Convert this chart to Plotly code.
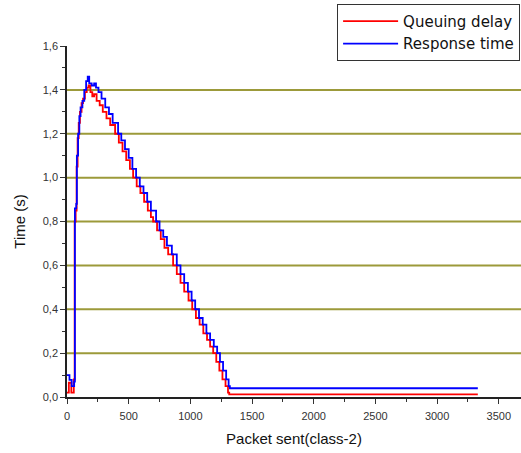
import plotly.graph_objects as go

# Queuing delay (red)
qd_x = [0, 15, 35, 55, 62, 70, 78, 86, 95, 105, 118, 130, 145, 160, 175, 190, 205, 220, 240,
        265, 290, 320, 350, 390, 420, 450, 480, 510, 536, 565, 595, 625, 655, 680, 698, 730,
        760, 790, 820, 860, 890, 920, 950, 985, 1015, 1045, 1075, 1105, 1135, 1160, 1185,
        1210, 1235, 1260, 1285, 1305, 1315, 3330]
qd_y = [0.02, 0.065, 0.02, 0.08, 0.80, 0.85, 1.05, 1.18, 1.25, 1.30, 1.34, 1.36, 1.39, 1.41,
        1.42, 1.39, 1.37, 1.38, 1.35, 1.33, 1.30, 1.27, 1.24, 1.20, 1.16, 1.12, 1.08, 1.04,
        1.00, 0.96, 0.93, 0.89, 0.85, 0.82, 0.80, 0.76, 0.72, 0.68, 0.65, 0.60, 0.56, 0.52,
        0.48, 0.44, 0.40, 0.36, 0.33, 0.29, 0.26, 0.23, 0.20, 0.16, 0.12, 0.08, 0.05, 0.02,
        0.012, 0.012]

# Response time (blue)
rt_x = [0, 20, 38, 58, 64, 75, 80, 90, 100, 110, 125, 140, 155, 168, 180, 200, 220, 235, 255,
        280, 310, 340, 370, 414, 440, 470, 500, 530, 560, 590, 620, 650, 680, 722, 750, 780,
        810, 850, 890, 920, 950, 980, 1010, 1039, 1070, 1100, 1130, 1160, 1190, 1217, 1240,
        1265, 1290, 1310, 1320, 3330]
rt_y = [0.10, 0.078, 0.05, 0.07, 0.86, 0.88, 1.10, 1.20, 1.28, 1.32, 1.35, 1.40, 1.44, 1.46,
        1.43, 1.42, 1.43, 1.41, 1.39, 1.36, 1.32, 1.29, 1.25, 1.20, 1.17, 1.13, 1.09, 1.04,
        1.00, 0.96, 0.93, 0.89, 0.85, 0.80, 0.76, 0.73, 0.69, 0.65, 0.60, 0.56, 0.52, 0.48,
        0.44, 0.40, 0.36, 0.33, 0.29, 0.26, 0.23, 0.20, 0.16, 0.12, 0.08, 0.05, 0.04, 0.04]

y_ticks = [0.0, 0.2, 0.4, 0.6, 0.8, 1.0, 1.2, 1.4, 1.6]
y_tick_labels = ["0,0", "0,2", "0,4", "0,6", "0,8", "1,0", "1,2", "1,4", "1,6"]
grid_values = [0.2, 0.4, 0.6, 0.8, 1.0, 1.2, 1.4]
x_ticks = [0, 500, 1000, 1500, 2000, 2500, 3000, 3500]

FONT = "Liberation Sans, Arial, sans-serif"

fig = go.Figure()
fig.add_trace(go.Scatter(x=qd_x, y=qd_y, mode="lines", name="Queuing delay",
                         line=dict(color="#ff0000", width=1.8, shape="hv")))
fig.add_trace(go.Scatter(x=rt_x, y=rt_y, mode="lines", name="Response time",
                         line=dict(color="#0000ff", width=1.8, shape="hv")))

for g in grid_values:
    fig.add_shape(type="line", xref="paper", x0=0, x1=1, yref="y", y0=g, y1=g,
                  line=dict(color="#9c9a3a", width=2), layer="below")

fig.update_layout(
    width=521, height=453,
    margin=dict(l=67, r=0, t=46, b=56, autoexpand=False),
    paper_bgcolor="white", plot_bgcolor="white",
    font=dict(family=FONT, color="#222222"),
    showlegend=True,
    legend=dict(x=0.998, y=1.12, xanchor="right", yanchor="top",
                bordercolor="#333333", borderwidth=1, bgcolor="white",
                font=dict(family="DejaVu Sans, sans-serif", size=15, color="#111111"),
                tracegroupgap=0, itemwidth=55),
    xaxis=dict(range=[0, 3680], tickvals=x_ticks, ticks="outside", ticklen=5,
               tickcolor="#333333", showline=True, linecolor="#222222", linewidth=1.5,
               showgrid=False, zeroline=False, automargin=False, ticklabelstandoff=3,
               tickfont=dict(size=11, color="#333333"),
               minor=dict(dtick=250, ticks="outside", ticklen=3, tickcolor="#333333"),
               title=dict(text="Packet sent(class-2)", font=dict(size=15, color="#111111"),
                          standoff=13)),
    yaxis=dict(range=[0, 1.6], tickvals=y_ticks, ticktext=y_tick_labels,
               ticks="outside", ticklen=5, tickcolor="#333333",
               showline=True, linecolor="#222222", linewidth=1.5,
               showgrid=False, zeroline=False, automargin=False,
               tickfont=dict(size=11, color="#333333"),
               minor=dict(dtick=0.1, ticks="outside", ticklen=3, tickcolor="#333333"),
               title=dict(text="Time (s)", font=dict(size=15, color="#111111"),
                          standoff=14)),
)

fig.write_html("out.html", config={"displayModeBar": False},
               post_script="document.body.style.margin='0';document.body.style.padding='0';")
